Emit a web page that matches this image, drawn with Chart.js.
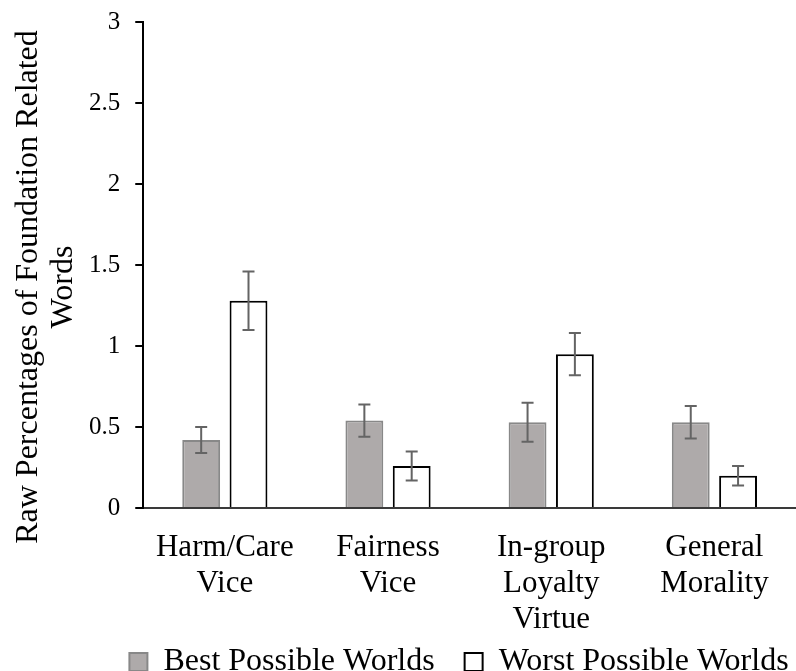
<!DOCTYPE html>
<html>
<head>
<meta charset="utf-8">
<script src="https://cdn.jsdelivr.net/npm/chart.js@4.4.1/dist/chart.umd.min.js"></script>
<style>
  html, body { margin: 0; padding: 0; background: #fff; }
  #wrap { width: 796px; height: 671px; }
</style>
</head>
<body>
<div id="wrap"><canvas id="chart"></canvas></div>
<script>
// ── Data ────────────────────────────────────────────────────────────────────
const categories  = [['Harm/Care', 'Vice'], ['Fairness', 'Vice'], ['In-group', 'Loyalty', 'Virtue'], ['General', 'Morality']];
const bestValues  = [0.42, 0.54, 0.53, 0.53];
const bestErrors  = [0.08, 0.10, 0.12, 0.10];
const worstValues = [1.28, 0.26, 0.95, 0.20];
const worstErrors = [0.18, 0.09, 0.13, 0.06];
const yTicks      = [0, 0.5, 1, 1.5, 2, 2.5, 3];
const yTitle      = ['Raw Percentages of Foundation Related', 'Words'];

const SERIF = '"Times New Roman", "Liberation Serif", serif';

// ── Error bars ──────────────────────────────────────────────────────────────
const errorBars = {
  id: 'errorBars',
  afterDatasetsDraw(chart) {
    const ctx = chart.ctx;
    const y = chart.scales.y;
    ctx.save();
    ctx.strokeStyle = '#646464';
    ctx.lineWidth = 2;
    chart.data.datasets.forEach((ds, i) => {
      const meta = chart.getDatasetMeta(i);
      meta.data.forEach((bar, j) => {
        const v = ds.data[j], e = ds.errors[j];
        const top = y.getPixelForValue(v + e);
        const bot = y.getPixelForValue(v - e);
        ctx.beginPath();
        ctx.moveTo(bar.x, top); ctx.lineTo(bar.x, bot);
        ctx.moveTo(bar.x - 6, top); ctx.lineTo(bar.x + 6, top);
        ctx.moveTo(bar.x - 6, bot); ctx.lineTo(bar.x + 6, bot);
        ctx.stroke();
      });
    });
    ctx.restore();
  },
};

// ── Y axis title (sits a bit lower than the axis centre, as in Excel) ──────
const yAxisTitle = {
  id: 'yAxisTitle',
  afterDraw(chart) {
    const ctx = chart.ctx;
    ctx.save();
    ctx.fillStyle = '#000';
    ctx.font = '32px ' + SERIF;
    ctx.textAlign = 'center';
    ctx.textBaseline = 'middle';
    ctx.translate(0, 287);
    ctx.rotate(-Math.PI / 2);
    ctx.fillText(yTitle[0], 0, 29);
    ctx.fillText(yTitle[1], 0, 64);
    ctx.restore();
  },
};

// ── Nudge the legend box to where Excel put it ──────────────────────────────
const legendNudge = {
  id: 'legendNudge',
  afterLayout(chart) {
    const lg = chart.legend;
    const dx = 24, dy = -36;
    lg.left += dx; lg.right += dx;
    lg.top += dy; lg.bottom += dy;
  },
};

new Chart(document.getElementById('chart').getContext('2d'), {
  type: 'bar',
  data: {
    labels: categories,
    datasets: [
      {
        label: 'Best Possible Worlds',
        data: bestValues,
        errors: bestErrors,
        backgroundColor: '#aeaaaa',
        borderColor: '#888888',
        borderWidth: 2,
        categoryPercentage: 0.58,
        barPercentage: 0.8,
      },
      {
        label: 'Worst Possible Worlds',
        data: worstValues,
        errors: worstErrors,
        backgroundColor: '#ffffff',
        borderColor: '#000000',
        borderWidth: 2,
        categoryPercentage: 0.58,
        barPercentage: 0.8,
      },
    ],
  },
  plugins: [errorBars, yAxisTitle, legendNudge],
  options: {
    responsive: true,
    maintainAspectRatio: false,
    animation: false,
    layout: { padding: { top: 22, right: 0, bottom: -53, left: 74 } },
    plugins: {
      legend: {
        position: 'bottom',
        align: 'center',
        labels: {
          color: '#000',
          font: { family: SERIF, size: 32, lineHeight: 1 },
          boxWidth: 18,
          boxHeight: 18,
          padding: 30,
        },
      },
      tooltip: { enabled: false },
    },
    scales: {
      x: {
        grid: { display: false },
        border: { display: true, color: '#3a3a3a', width: 2 },
        ticks: {
          color: '#000',
          font: { family: SERIF, size: 31, lineHeight: 1.16 },
          maxRotation: 0,
          autoSkip: false,
          padding: 14,
        },
      },
      y: {
        min: 0,
        max: 3,
        afterBuildTicks: axis => { axis.ticks = yTicks.map(v => ({ value: v })); },
        afterFit: axis => { axis.paddingTop = 0; },
        grid: { display: true, drawOnChartArea: false, drawTicks: true, tickLength: 8, color: '#000', lineWidth: 2 },
        border: { display: true, color: '#000', width: 2 },
        ticks: {
          color: '#000',
          font: { family: SERIF, size: 25 },
          padding: 15,
          callback: v => String(v),
        },
      },
    },
  },
});
</script>
</body>
</html>
